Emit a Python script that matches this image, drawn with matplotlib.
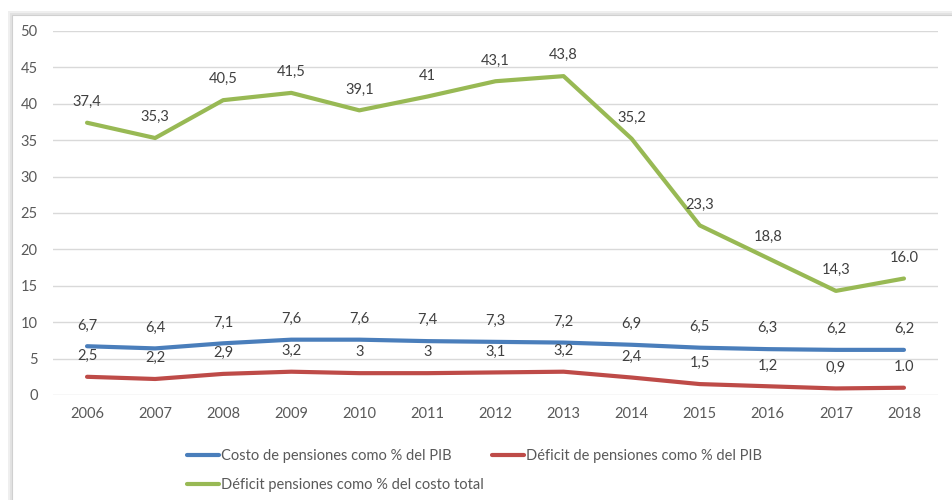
import matplotlib

matplotlib.use("Agg")
import matplotlib.pyplot as plt
from matplotlib.patches import Rectangle

years = [2006, 2007, 2008, 2009, 2010, 2011, 2012, 2013, 2014, 2015, 2016, 2017, 2018]
costo_pib = [6.7, 6.4, 7.1, 7.6, 7.6, 7.4, 7.3, 7.2, 6.9, 6.5, 6.3, 6.2, 6.2]
costo_labels = ["6,7", "6,4", "7,1", "7,6", "7,6", "7,4", "7,3", "7,2", "6,9", "6,5", "6,3", "6,2", "6,2"]
deficit_pib = [2.5, 2.2, 2.9, 3.2, 3.0, 3.0, 3.1, 3.2, 2.4, 1.5, 1.2, 0.9, 1.0]
deficit_labels = ["2,5", "2,2", "2,9", "3,2", "3", "3", "3,1", "3,2", "2,4", "1,5", "1,2", "0,9", "1.0"]
deficit_total = [37.4, 35.3, 40.5, 41.5, 39.1, 41.0, 43.1, 43.8, 35.2, 23.3, 18.8, 14.3, 16.0]
total_labels = ["37,4", "35,3", "40,5", "41,5", "39,1", "41", "43,1", "43,8", "35,2", "23,3", "18,8", "14,3", "16.0"]

plt.rcParams["font.family"] = ["Lato", "DejaVu Sans"]

fig = plt.figure(figsize=(9.52, 5.0), dpi=100)

# chart frame with a soft shadow on the top/left
for off, col in [(4, "#efefef"), (2, "#e2e2e2")]:
    fig.patches.append(Rectangle(((12 - off) / 952, 0), 1.0, (485 + off) / 500,
                                 transform=fig.transFigure, facecolor=col,
                                 edgecolor="none", zorder=-2))
fig.patches.append(Rectangle((12 / 952, -0.01), 1.0, 485 / 500 + 0.01,
                             transform=fig.transFigure, facecolor="white",
                             edgecolor="#d0d0d0", lw=0.8, zorder=-1))

ax = fig.add_axes([53 / 952, 105 / 500, 885 / 952, 364 / 500])
ax.set_zorder(1)
ax.set_facecolor("none")

x = list(range(len(years)))
series = [
    (costo_pib, costo_labels, "#4a7ebb", "Costo de pensiones como % del PIB"),
    (deficit_pib, deficit_labels, "#be4b48", "Déficit de pensiones como % del PIB"),
    (deficit_total, total_labels, "#98b954", "Déficit pensiones como % del costo total"),
]
lines = []
for vals, labels, color, name in series:
    (ln,) = ax.plot(x, vals, color=color, lw=3, solid_capstyle="round", label=name, zorder=3)
    lines.append(ln)
    for xi, v, lab in zip(x, vals, labels):
        ax.annotate(lab, (xi, v), xytext=(0, 15), textcoords="offset points",
                    ha="center", va="center", fontsize=10.5, color="#404040", zorder=4)

ax.set_xlim(-0.5, len(years) - 0.5)
ax.set_ylim(0, 50)
ax.set_yticks(range(0, 51, 5))
ax.set_xticks(x)
ax.set_xticklabels([str(y) for y in years])
ax.grid(axis="y", color="#d9d9d9", lw=1)
ax.set_axisbelow(True)
for s in ax.spines.values():
    s.set_visible(False)
ax.tick_params(length=0, labelsize=10.5, colors="#595959", pad=9)
ax.tick_params(axis="y", pad=11)

leg = fig.legend([lines[0], lines[2], lines[1]],
                 [lines[0].get_label(), lines[2].get_label(), lines[1].get_label()],
                 ncol=2, loc="upper left", bbox_to_anchor=(174 / 952, 64 / 500),
                 frameon=False, fontsize=10.5, handlelength=2.2, handletextpad=0.1,
                 columnspacing=0.6, labelspacing=1.0)
for t in leg.get_texts():
    t.set_color("#595959")

fig.savefig("out.png", dpi=100)
